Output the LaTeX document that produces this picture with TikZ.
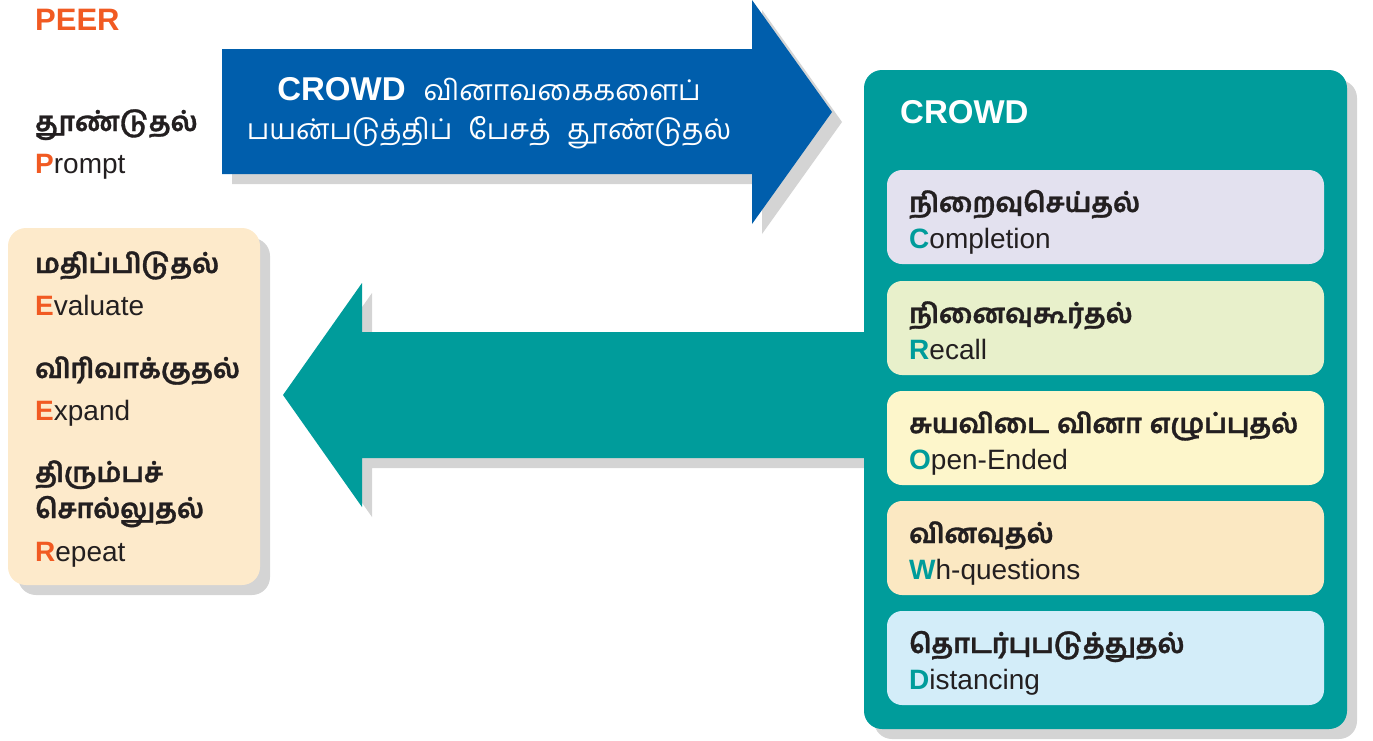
\documentclass[tikz,border=0pt]{standalone}
\usepackage{fontspec}
\setmainfont{Liberation Sans}
\newfontfamily\tamil[Script=Tamil, BoldFeatures={FakeBold=1.2}]{Hind Madurai}
\definecolor{cblue}{HTML}{005EAC}
\definecolor{cteal}{HTML}{009C9B}
\definecolor{corange}{HTML}{F15A22}
\definecolor{cshadow}{HTML}{D4D4D4}
\definecolor{cpeach}{HTML}{FDEACB}
\definecolor{clav}{HTML}{E3E1EF}
\definecolor{cgreen}{HTML}{E8F0CB}
\definecolor{cyellow}{HTML}{FDF6CB}
\definecolor{ctan}{HTML}{FBE8C2}
\definecolor{cbluel}{HTML}{D3EDF9}
\definecolor{ctext}{HTML}{231F20}
\begin{document}
\begin{tikzpicture}[x=1pt,y=-1pt,
  ta/.style={font=\tamil\bfseries\fontsize{27}{30}\selectfont, anchor=base west, inner sep=0pt, text=ctext},
  en/.style={font=\fontsize{28}{32}\selectfont, anchor=base west, inner sep=0pt, text=ctext},
  inbox/.style={rounded corners=15pt, minimum width=437pt, minimum height=94pt, inner sep=0pt, draw=none},
  shade/.style={fill=cshadow, draw=none}]
\useasboundingbox (0,0) rectangle (1373,740);
% ---- shadows
\fill[shade] (232,59) -- (762,59) -- (762,10) -- (842,122) -- (762,234) -- (762,184) -- (232,184) -- cycle;
\fill[shade] (874,342) -- (372,342) -- (372,293) -- (293,405) -- (372,517) -- (372,468) -- (874,468) -- cycle;
\fill[shade, rounded corners=18pt] (18,238) rectangle (270,595);
\fill[shade, rounded corners=18pt] (874,80) rectangle (1357,739);
% ---- blue arrow
\fill[cblue] (222,49) -- (752,49) -- (752,0) -- (832,112) -- (752,224) -- (752,174) -- (222,174) -- cycle;
\node[font=\fontsize{33}{36}\selectfont, text=white, anchor=base, inner sep=0pt] (bl1) at (489,100) {{\bfseries CROWD}\hspace{18pt}{\tamil\fontsize{28.5}{32}\selectfont வினாவகைகளைப்}};
\node[font=\tamil\fontsize{28.5}{32}\selectfont, text=white, anchor=base, inner sep=0pt] (bl2) at (489,139) {பயன்படுத்திப்\hspace{9pt} பேசத்\hspace{9pt} தூண்டுதல்};
% ---- teal arrow
\fill[cteal] (864,332) -- (362,332) -- (362,283) -- (283,395) -- (362,507) -- (362,458) -- (864,458) -- cycle;
% ---- left box
\node[rounded corners=18pt, fill=cpeach, minimum width=252pt, minimum height=357pt, inner sep=0pt] (peerbox) at (134,406.5) {};
% ---- right box
\node[rounded corners=18pt, fill=cteal, minimum width=483pt, minimum height=659pt, inner sep=0pt] (crowdbox) at (1105.5,399.5) {};
\node[font=\bfseries\fontsize{33}{36}\selectfont, text=white, anchor=base west, inner sep=0pt] (crowdt) at (900,123) {CROWD};
\node[inbox, fill=clav] (b1) at (1105.5,217) {};
\node[inbox, fill=cgreen] (b2) at (1105.5,328) {};
\node[inbox, fill=cyellow] (b3) at (1105.5,438) {};
\node[inbox, fill=ctan] (b4) at (1105.5,548) {};
\node[inbox, fill=cbluel] (b5) at (1105.5,658) {};
\node[ta] (t1) at (909,212) {நிறைவுசெய்தல்};
\node[en] (e1) at (909,248) {\textcolor{cteal}{\bfseries C}ompletion};
\node[ta] (t2) at (909,323) {நினைவுகூர்தல்};
\node[en] (e2) at (909,359) {\textcolor{cteal}{\bfseries R}ecall};
\node[ta] (t3) at (909,433) {\makebox[389pt][s]{சுயவிடை வினா எழுப்புதல்}};
\node[en] (e3) at (909,469) {\textcolor{cteal}{\bfseries O}pen-Ended};
\node[ta] (t4) at (909,543) {வினவுதல்};
\node[en] (e4) at (909,579) {\textcolor{cteal}{\bfseries W}h-questions};
\node[ta] (t5) at (909,653) {தொடர்புபடுத்துதல்};
\node[en] (e5) at (909,689) {\textcolor{cteal}{\bfseries D}istancing};
% ---- left texts
\node[font=\bfseries\fontsize{31}{34}\selectfont, text=corange, anchor=base west, inner sep=0pt] (peer) at (35,30) {PEER};
\node[ta] (p1) at (35,131) {தூண்டுதல்};
\node[en] (p2) at (35,173) {\textcolor{corange}{\bfseries P}rompt};
\node[ta] (l1) at (35,273) {மதிப்பிடுதல்};
\node[en] (l2) at (35,315) {\textcolor{corange}{\bfseries E}valuate};
\node[ta] (l3) at (35,378) {விரிவாக்குதல்};
\node[en] (l4) at (35,420) {\textcolor{corange}{\bfseries E}xpand};
\node[ta] (l5) at (35,482) {திரும்பச்};
\node[ta] (l6) at (35,518) {சொல்லுதல்};
\node[en] (l7) at (35,561) {\textcolor{corange}{\bfseries R}epeat};
\end{tikzpicture}
\end{document}
